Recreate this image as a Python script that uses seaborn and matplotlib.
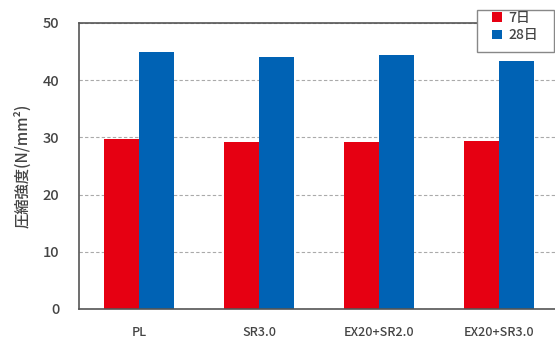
import matplotlib
matplotlib.use("Agg")
import matplotlib.pyplot as plt
from matplotlib.patches import Rectangle
import seaborn as sns
import pandas as pd

categories = ["PL", "SR3.0", "EX20+SR2.0", "EX20+SR3.0"]
day7 = [29.7, 29.2, 29.2, 29.4]
day28 = [44.9, 44.0, 44.4, 43.4]
series_names = ["7日", "28日"]
yticks = [0, 10, 20, 30, 40, 50]

df = pd.DataFrame({
    "cat": categories * 2,
    "val": day7 + day28,
    "series": [series_names[0]] * 4 + [series_names[1]] * 4,
})

sns.set_theme(style="white")
plt.rcParams['font.family'] = ['Noto Sans CJK JP', 'DejaVu Sans']

W, H = 555, 340
fig = plt.figure(figsize=(5.55, 3.4), dpi=100)
ax = fig.add_axes([79 / W, 31 / H, 480 / W, 286 / H])

sns.barplot(data=df, x="cat", y="val", hue="series",
            palette=["#E60012", "#0062B4"], width=0.58, gap=0,
            saturation=1, edgecolor="none", ax=ax)

ax.set_ylim(0, 50)
ax.set_yticks(yticks)
ax.set_xlim(-0.5, 3.5)
ax.yaxis.grid(True, linestyle=(0, (3, 2)), color="#aaaaaa", linewidth=0.8)
ax.set_axisbelow(True)
ax.set_xlabel("")
ax.set_ylabel("圧縮強度(N/mm²)", fontsize=11, color="#444444", labelpad=8,
              fontweight="medium")
ax.tick_params(axis="y", labelsize=10.5, colors="#444444", length=0, pad=14)
ax.tick_params(axis="x", labelsize=9, colors="#444444", length=0, pad=12)
for lab in ax.get_xticklabels() + ax.get_yticklabels():
    lab.set_fontweight("medium")
for s in ["left", "bottom", "top"]:
    ax.spines[s].set_color("#555555")
    ax.spines[s].set_linewidth(1.2)
ax.spines["right"].set_visible(False)
ax.set_xticks([0.5, 1.5, 2.5], minor=True)
ax.tick_params(axis="x", which="minor", direction="in", length=3, color="#555555")

handles, labels = ax.get_legend_handles_labels()
ax.get_legend().remove()

# legend frame box
frame = Rectangle((477 / W, (H - 52) / H), 77 / W, 42 / H,
                  transform=fig.transFigure, facecolor="white",
                  edgecolor="#888888", linewidth=1.0, zorder=1)
fig.add_artist(frame)

leg = fig.legend(handles, labels, loc="upper left",
                 bbox_to_anchor=(492 / W, (H - 11) / H), frameon=False,
                 fontsize=10, handlelength=0.7, handleheight=0.7, handletextpad=0.5,
                 borderpad=0.0, labelspacing=0.25, borderaxespad=0)
leg.set_zorder(2)
for t in leg.get_texts():
    t.set_color("#444444")
    t.set_fontweight("medium")

fig.savefig("out.png", dpi=100)
